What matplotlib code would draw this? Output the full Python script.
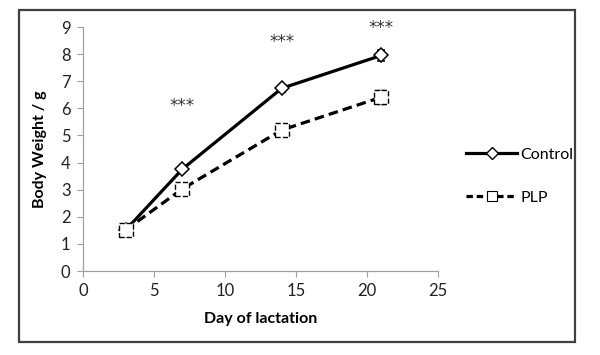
import matplotlib
matplotlib.use("Agg")
import matplotlib.pyplot as plt
from matplotlib.patches import Rectangle
from matplotlib.lines import Line2D

plt.rcParams['font.family'] = ['Lato', 'DejaVu Sans']

days = [3, 7, 14, 21]
control = [1.51, 3.76, 6.74, 7.95]
control_err = [0.05, 0.08, 0.12, 0.22]
plp = [1.51, 3.03, 5.2, 6.41]
plp_err = [0.05, 0.08, 0.1, 0.25]
sig_days = [7, 14, 21]
sig_y = [6.1, 8.46, 8.98]
sig_labels = ["***", "***", "***"]
xticks = [0, 5, 10, 15, 20, 25]
yticks = list(range(0, 10))

fig = plt.figure(figsize=(6, 3.55), dpi=100)
fig.patches.append(Rectangle((19/600, 1-342/355), (575-19)/600, (342-10)/355,
                             transform=fig.transFigure, fill=False,
                             edgecolor='#404040', linewidth=1.6))
ax = fig.add_axes([83/600, 1-271/355, (438-83)/600, (271-27)/355])

ax.errorbar(days, control, yerr=control_err, color='black', lw=2.3,
            marker='D', markersize=7.5, markerfacecolor='white',
            markeredgecolor='black', markeredgewidth=1.1, capsize=3,
            elinewidth=1, zorder=3)
ax.errorbar(days, plp, yerr=plp_err, color='black', lw=2.3, ls=(0, (3, 1.6)),
            marker=None, capsize=3, elinewidth=1, zorder=3)
ax.scatter(days, plp, marker='s', s=100, facecolors='white', edgecolors='black',
           linewidths=1.0, linestyles='--', zorder=4)

for xd, yv, lab in zip(sig_days, sig_y, sig_labels):
    ax.text(xd, yv, lab, ha='center', va='center', fontsize=12, color='#333333',
            family='DejaVu Sans', clip_on=False)

ax.set_xlim(0, 25)
ax.set_ylim(0, 9)
ax.set_xticks(xticks)
ax.set_yticks(yticks)
for s in ['top', 'right']:
    ax.spines[s].set_visible(False)
for s in ['left', 'bottom']:
    ax.spines[s].set_color('#a0a0a0')
    ax.spines[s].set_linewidth(0.9)
ax.tick_params(direction='out', length=4, color='#a0a0a0', labelsize=12,
               labelcolor='#222222', pad=5)
ax.set_xlabel("Day of lactation", fontsize=11.5, fontweight='bold', labelpad=9)
ax.set_ylabel("Body Weight / g", fontsize=11.5, fontweight='bold', labelpad=10)

h1 = Line2D([], [], color='black', lw=2.3, marker='D', markersize=6,
            markerfacecolor='white', markeredgewidth=1.0)
h2 = Line2D([], [], color='black', lw=2.3, ls=(0, (2, 1.2)), marker='s', markersize=7,
            markerfacecolor='white', markeredgewidth=0.8)
fig.legend([h1, h2], ["Control", "PLP"], loc='center left',
           bbox_to_anchor=(452/600, 1-176/355), frameon=False, fontsize=11.5,
           handlelength=3.2, labelspacing=1.8, handletextpad=0.2)

fig.savefig("out.png", dpi=100)
